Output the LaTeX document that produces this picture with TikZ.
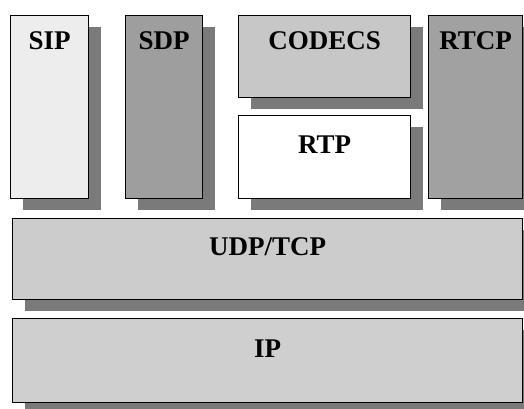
\documentclass[tikz,border=0pt]{standalone}
\usepackage{fontspec}
\setmainfont{Liberation Serif}
\usetikzlibrary{positioning, shadows}

\definecolor{shadowgray}{gray}{0.48}
\definecolor{sipgray}{gray}{0.93}
\definecolor{sdpgray}{gray}{0.62}
\definecolor{codecgray}{gray}{0.78}
\definecolor{rtcpgray}{gray}{0.63}
\definecolor{udpgray}{gray}{0.80}
\definecolor{ipgray}{gray}{0.81}

\begin{document}
\begin{tikzpicture}[
    x=1pt, y=-1pt,
    layerbox/.style={
        draw=black,
        line width=1.1pt,
        anchor=north west,
        inner sep=0pt,
        drop shadow={shadow xshift=12pt, shadow yshift=-11pt,
                     fill=shadowgray, opacity=1}
    },
    layerlabel/.style={
        anchor=base,
        inner sep=0pt,
        font=\fontsize{27}{30}\selectfont\bfseries
    }
]
\useasboundingbox (0,0) rectangle (524,409);
% ============================================================
% TOP ROW -- signalling, media and control protocols
% ============================================================
\node[layerbox, fill=sipgray, minimum width=78pt, minimum height=183pt]
    (sip) at (10,15) {};
\node[layerbox, fill=sdpgray, minimum width=77pt, minimum height=183pt]
    (sdp) at (125,15) {};
\node[layerbox, fill=codecgray, minimum width=172pt, minimum height=82pt]
    (codecs) at (238,15) {};
\node[layerbox, fill=white, minimum width=172pt, minimum height=83pt]
    (rtp) at (238,115) {};
\node[layerbox, fill=rtcpgray, minimum width=94pt, minimum height=183pt]
    (rtcp) at (428,15) {};
% ============================================================
% TRANSPORT AND NETWORK LAYERS
% ============================================================
\node[layerbox, fill=udpgray, minimum width=510pt, minimum height=81pt]
    (udptcp) at (12,218) {};
\node[layerbox, fill=ipgray, minimum width=510pt, minimum height=84pt]
    (ip) at (12,318) {};
% ============================================================
% LABELS -- near the top of every box
% ============================================================
\node[layerlabel] (siplabel)    at ([yshift=-35pt]sip.north)    {SIP};
\node[layerlabel] (sdplabel)    at ([yshift=-35pt]sdp.north)    {SDP};
\node[layerlabel] (codecslabel) at ([yshift=-35pt]codecs.north) {CODECS};
\node[layerlabel] (rtplabel)    at ([yshift=-38pt]rtp.north)    {RTP};
\node[layerlabel] (rtcplabel)   at ([yshift=-35pt]rtcp.north)   {RTCP};
\node[layerlabel] (udptcplabel) at ([yshift=-37pt]udptcp.north) {UDP/TCP};
\node[layerlabel] (iplabel)     at ([yshift=-39pt]ip.north)     {IP};
\end{tikzpicture}
\end{document}
